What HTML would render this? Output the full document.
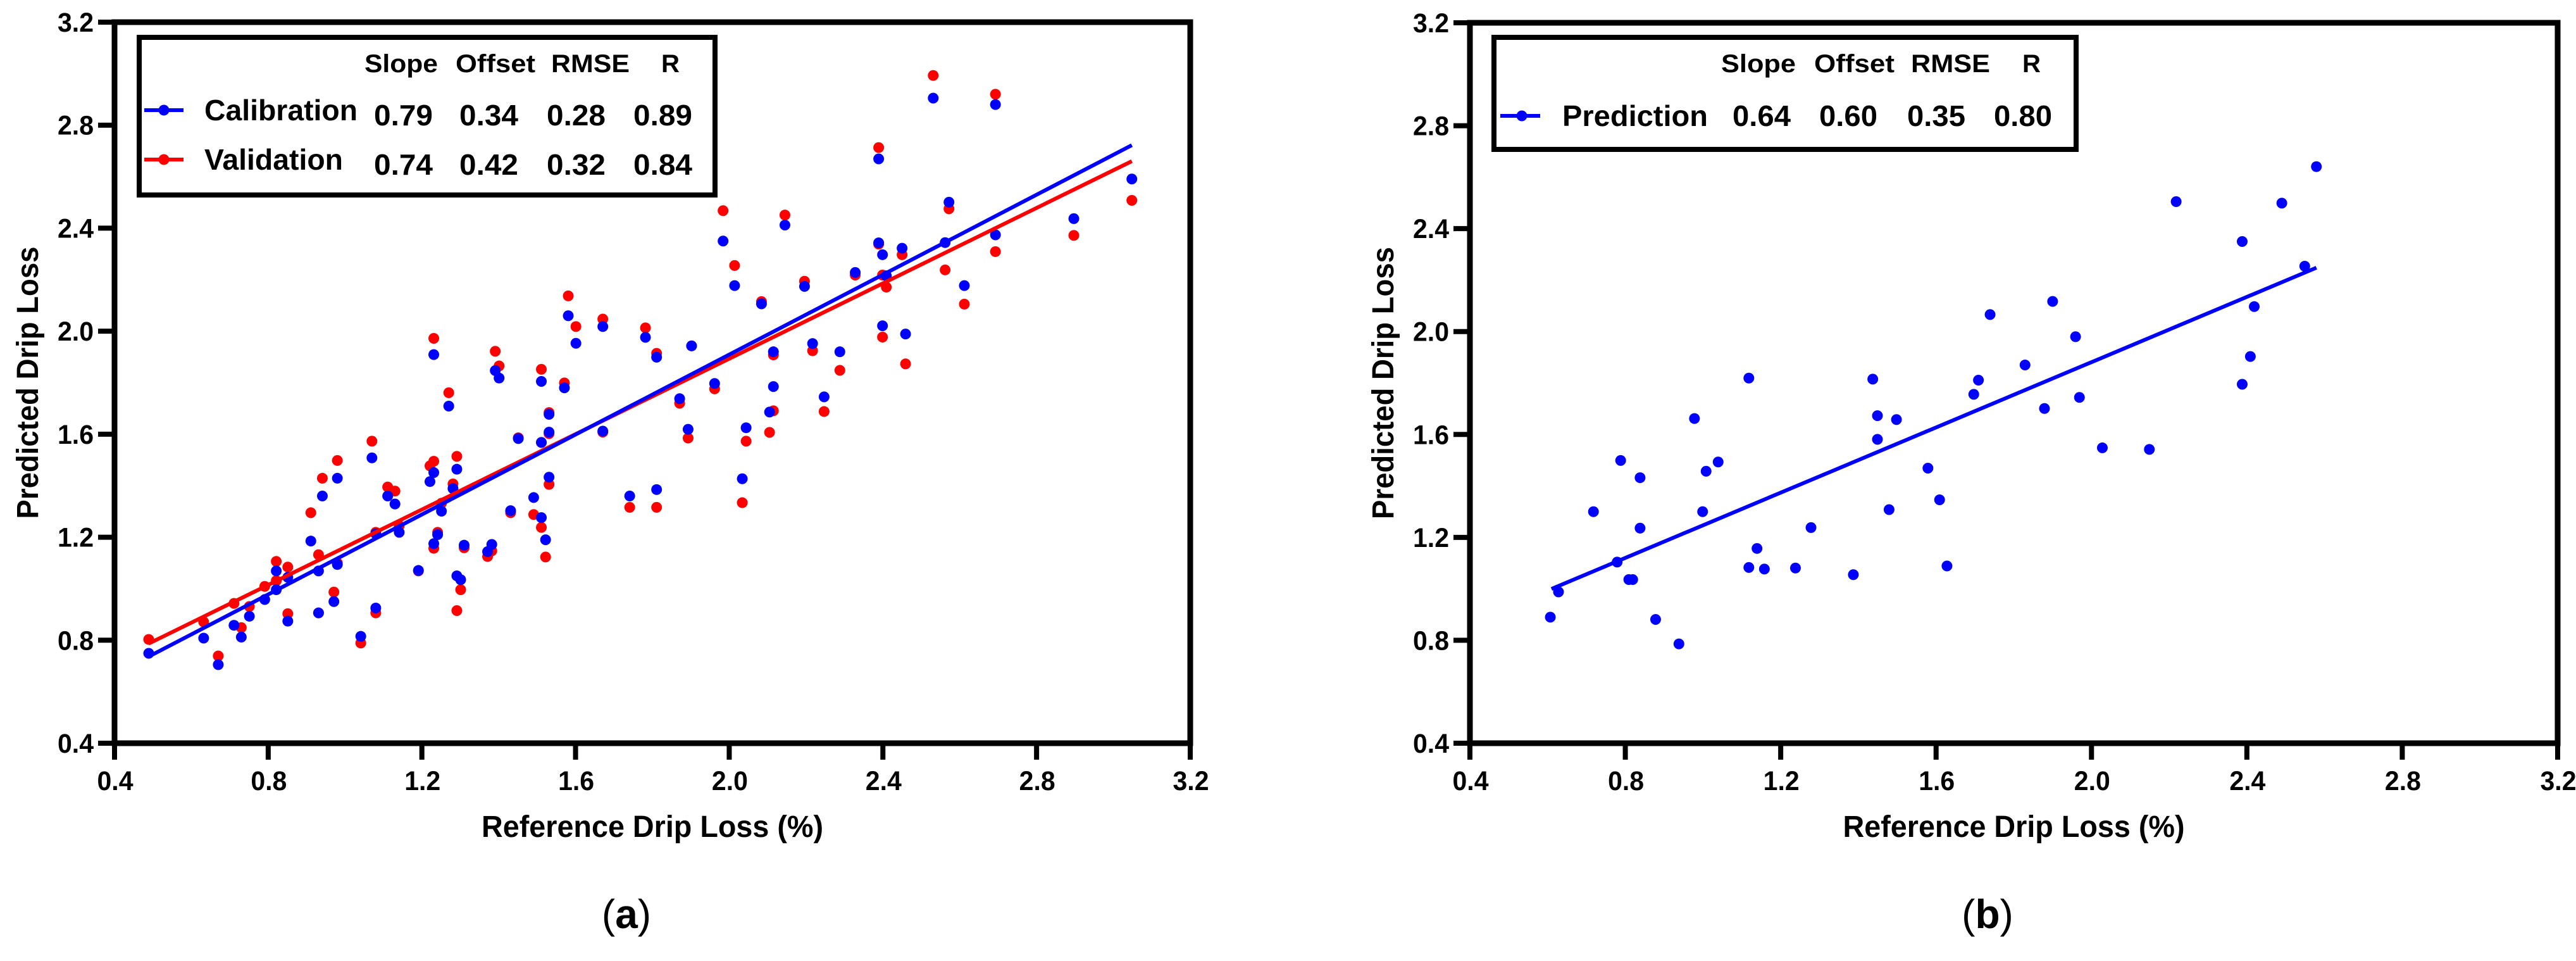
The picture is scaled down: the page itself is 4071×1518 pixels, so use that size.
<!DOCTYPE html>
<html><head><meta charset="utf-8"><style>
html,body{margin:0;padding:0;background:#fff}
svg{display:block}
text{font-family:"Liberation Sans",Arial,sans-serif;font-weight:bold}
</style></head><body>
<svg id="fig" width="4071" height="1518" viewBox="0 0 4071 1518" xmlns="http://www.w3.org/2000/svg"></svg>
<script>
// ---- Panel (a) data ----
const calX = [0.489,0.632,0.670,0.711,0.730,0.751,0.791,0.821,0.821,0.851,0.851,0.911,0.931,0.931,0.941,0.971,0.980,0.980,1.041,1.070,1.080,1.080,1.111,1.130,1.141,1.191,1.221,1.231,1.231,1.231,1.241,1.251,1.270,1.281,1.291,1.291,1.301,1.310,1.371,1.382,1.391,1.401,1.431,1.451,1.491,1.511,1.511,1.511,1.522,1.531,1.531,1.531,1.571,1.581,1.601,1.671,1.671,1.741,1.782,1.811,1.811,1.871,1.893,1.902,1.962,1.984,2.014,2.034,2.044,2.084,2.105,2.115,2.115,2.145,2.196,2.217,2.247,2.288,2.328,2.389,2.389,2.399,2.399,2.409,2.450,2.459,2.531,2.562,2.572,2.612,2.693,2.693,2.897,3.048];
const calY = [0.749,0.808,0.705,0.858,0.812,0.893,0.958,1.069,0.996,1.044,0.874,1.185,1.069,0.906,1.360,0.950,1.429,1.094,0.815,1.508,0.925,1.213,1.360,1.329,1.219,1.071,1.416,1.909,1.451,1.175,1.210,1.301,1.709,1.389,1.464,1.050,1.035,1.169,1.144,1.172,1.847,1.818,1.303,1.583,1.354,1.805,1.568,1.276,1.190,1.677,1.608,1.433,1.780,2.060,1.953,1.612,2.018,1.360,1.976,1.899,1.385,1.738,1.619,1.943,1.797,2.350,2.177,1.427,1.625,2.106,1.686,1.920,1.785,2.412,2.174,1.952,1.745,1.920,2.228,2.669,2.343,2.297,2.021,2.215,2.322,1.989,2.905,2.344,2.501,2.177,2.880,2.374,2.437,2.591];
const valY = [0.803,0.871,0.739,0.943,0.849,0.931,1.009,1.106,1.031,1.084,0.903,1.295,1.132,0.906,1.429,0.987,1.498,1.100,0.789,1.573,0.906,1.219,1.395,1.379,1.244,1.069,1.477,1.972,1.495,1.157,1.219,1.332,1.761,1.407,1.514,0.915,0.996,1.159,1.125,1.147,1.922,1.865,1.295,1.586,1.288,1.852,1.568,1.238,1.123,1.684,1.602,1.405,1.799,2.137,2.018,1.608,2.047,1.316,2.013,1.914,1.316,1.720,1.585,1.943,1.776,2.468,2.255,1.334,1.573,2.115,1.607,1.908,1.691,2.451,2.194,1.924,1.688,1.848,2.218,2.713,2.338,2.218,1.977,2.171,2.297,1.873,2.993,2.238,2.475,2.105,2.920,2.309,2.372,2.508];
const fitXa = [0.489, 3.048];
const calFit = [0.776, 0.357]; // slope, intercept
const valFit = [0.732, 0.429];
// ---- Panel (b) data ----
const predX = [0.607,0.628,0.718,0.779,0.788,0.809,0.819,0.838,0.838,0.878,0.938,0.978,0.999,1.008,1.039,1.118,1.118,1.139,1.158,1.238,1.278,1.387,1.437,1.449,1.449,1.479,1.498,1.579,1.609,1.628,1.697,1.709,1.739,1.829,1.879,1.900,1.959,1.969,2.028,2.149,2.218,2.388,2.388,2.409,2.419,2.490,2.549,2.579];
const predY = [0.890,0.988,1.300,1.104,1.499,1.036,1.036,1.432,1.236,0.881,0.786,1.662,1.300,1.457,1.493,1.819,1.083,1.157,1.077,1.081,1.238,1.055,1.815,1.673,1.581,1.308,1.658,1.469,1.346,1.089,1.756,1.811,2.066,1.870,1.701,2.117,1.980,1.744,1.548,1.542,2.505,2.350,1.795,1.903,2.097,2.499,2.254,2.641];
const fitXb = [0.610, 2.579];
const predFit = [0.634, 0.613];
const ticks = ["0.4","0.8","1.2","1.6","2.0","2.4","2.8","3.2"];

const NS = "http://www.w3.org/2000/svg";
const svg = document.getElementById('fig');
function mk(tag, attrs, parent){ const e=document.createElementNS(NS,tag); for(const k in attrs) e.setAttribute(k,attrs[k]); (parent||svg).appendChild(e); return e; }

function panel(L, R, T, B, id){
  const g = mk('g',{});
  
  
  const sx = v => L + (v-0.4)/2.8*(R-L);
  const sy = v => B - (v-0.4)/2.8*(B-T);
  ticks.forEach((t,i)=>{
    const v=parseFloat(t);
    const xt = mk('line',{x1:sx(v),x2:sx(v),y1:B,y2:B+26,stroke:'#000','stroke-width':8},g);
    
    
    const yt = mk('line',{x1:L-26,x2:L,y1:sy(v),y2:sy(v),stroke:'#000','stroke-width':8},g);
    
    
    const xl = mk('text',{x:sx(v)+1,y:B+74,'font-size':43,'text-anchor':'middle',textLength:57,lengthAdjust:'spacingAndGlyphs'},g);
    xl.textContent=t;
    
    
    const yl = mk('text',{x:L-33,y:sy(v)+15,'font-size':43,'text-anchor':'end',textLength:57,lengthAdjust:'spacingAndGlyphs'},g);
    yl.textContent=t;
    
    
  });
  const frame = mk('rect',{x:L,y:T,width:R-L,height:B-T,fill:'none',stroke:'#000','stroke-width':9},g);
  
  
  const xt = mk('text',{x:(L+R)/2,y:B+148,'font-size':48,'text-anchor':'middle',textLength:540,lengthAdjust:'spacingAndGlyphs'},g);
  xt.textContent='Reference Drip Loss (%)';
  
  
  const yx = L-137, yy=(T+B)/2;
  const yt = mk('text',{x:yx,y:yy,'font-size':48,'text-anchor':'middle',transform:`rotate(-90 ${yx} ${yy})`,dy:16,textLength:430,lengthAdjust:'spacingAndGlyphs'},g);
  yt.textContent='Predicted Drip Loss';
  
  
  return {g,sx,sy};
}

function dots(p, xs, ys, color, name){
  xs.forEach((x,i)=>{
    const c = mk('ellipse',{cx:p.sx(x),cy:p.sy(ys[i]),rx:8.5,ry:8.5,fill:color},p.g);
    
    
  });
}
function fitLine(p, xr, fit, color, name){
  const l = mk('line',{x1:p.sx(xr[0]),y1:p.sy(fit[0]*xr[0]+fit[1]),x2:p.sx(xr[1]),y2:p.sy(fit[0]*xr[1]+fit[1]),stroke:color,'stroke-width':6},p.g);
  
  
}
function txt(p, s, x, y, size, w, name){
  const t = mk('text',{x:x,y:y,'font-size':size,textLength:w,lengthAdjust:'spacingAndGlyphs'},p.g);
  t.textContent=s;
  
  
  return t;
}

// Panel (a)
const pa = panel(181, 1881, 35, 1174, 'a');
dots(pa, calX, valY, '#ff0000', 'validation-point');
dots(pa, calX, calY, '#0000ff', 'calibration-point');
fitLine(pa, fitXa, valFit, '#ff0000', 'validation-fit-line');
fitLine(pa, fitXa, calFit, '#0000ff', 'calibration-fit-line');
const la = mk('rect',{x:220,y:59,width:910,height:249,fill:'#fff',stroke:'#000','stroke-width':8},pa.g);


txt(pa,'Slope',576,114,40,116,'legend-header-slope');
txt(pa,'Offset',720,114,40,126,'legend-header-offset');
txt(pa,'RMSE',871,114,40,124,'legend-header-rmse');
txt(pa,'R',1045,114,40,29,'legend-header-r');
[['Calibration','#0000ff',182,['0.79','0.34','0.28','0.89']],['Validation','#ff0000',260,['0.74','0.42','0.32','0.84']]].forEach(r=>{
  const ln=mk('line',{x1:228,x2:290,y1:r[2]-8,y2:r[2]-8,stroke:r[1],'stroke-width':6},pa.g);
  
  
  const d=mk('circle',{cx:259,cy:r[2]-8,r:8.5,fill:r[1]},pa.g);
  
  
  txt(pa,r[0],323,r[2]+8,46,r[0]==='Calibration'?242:219,'legend-label');
  [591,726,864,1001].forEach((x,i)=>txt(pa,r[3][i],x,r[2]+16,46,93,'legend-value'));
});
const ca = mk('text',{x:990,y:1466,'font-size':64,'text-anchor':'middle','font-family':'Liberation Serif, serif'},svg);
ca.innerHTML='(<tspan font-weight="bold">a</tspan>)';


ca.style.fontWeight='normal';

// Panel (b)
const pb = panel(2323, 4042, 36, 1174, 'b');
dots(pb, predX, predY, '#0000ff', 'prediction-point');
fitLine(pb, fitXb, predFit, '#0000ff', 'prediction-fit-line');
const lb = mk('rect',{x:2361,y:59,width:920,height:177,fill:'#fff',stroke:'#000','stroke-width':8},pb.g);


txt(pb,'Slope',2720,114,40,118,'legend-header-slope');
txt(pb,'Offset',2867,114,40,127,'legend-header-offset');
txt(pb,'RMSE',3020,114,40,125,'legend-header-rmse');
txt(pb,'R',3196,114,40,29,'legend-header-r');
const lnb=mk('line',{x1:2371,x2:2434,y1:183,y2:183,stroke:'#0000ff','stroke-width':6},pb.g);


const db=mk('circle',{cx:2405,cy:183,r:8.5,fill:'#0000ff'},pb.g);


txt(pb,'Prediction',2469,199,46,230,'legend-label');
[['0.64',2738],['0.60',2875],['0.35',3014],['0.80',3151]].forEach(v=>txt(pb,v[0],v[1],199,46,92,'legend-value'));
const cb = mk('text',{x:3141,y:1466,'font-size':64,'text-anchor':'middle','font-family':'Liberation Serif, serif'},svg);
cb.innerHTML='(<tspan font-weight="bold">b</tspan>)';


cb.style.fontWeight='normal';
</script>
</body></html>
